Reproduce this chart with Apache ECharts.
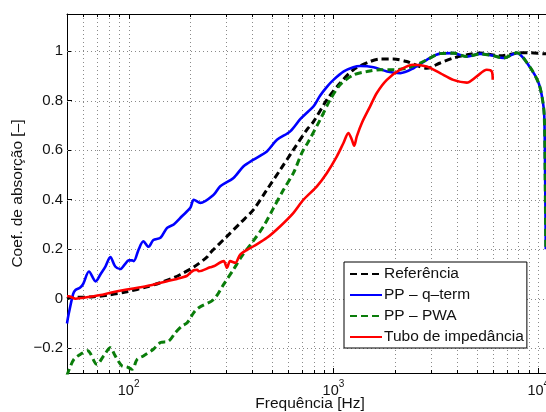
<!DOCTYPE html>
<html>
<head>
<meta charset="utf-8">
<script src="https://cdn.jsdelivr.net/npm/echarts@6/dist/echarts.min.js"></script>
<style>
  html, body { margin: 0; padding: 0; background: #fff; overflow: hidden; }
  #chart { width: 546px; height: 412px; }
</style>
</head>
<body>
<div id="chart"></div>
<script>
// Absorption coefficient vs frequency (Hz), four measurement methods.
const refFreq = [50, 52, 67.5, 80, 98, 123, 143, 166, 179, 208, 241, 250, 302, 351, 407, 473, 550, 638, 742, 799, 929, 1078, 1252, 1510, 1690, 1962, 2280, 2855, 3315, 3849, 4475, 5195, 6506, 7846, 9110, 10780, 12000];
const refAbs  = [0.0, 0.004, 0.008, 0.015, 0.028, 0.048, 0.065, 0.085, 0.098, 0.128, 0.168, 0.185, 0.252, 0.306, 0.36, 0.44, 0.521, 0.602, 0.683, 0.715, 0.804, 0.871, 0.925, 0.958, 0.968, 0.968, 0.958, 0.931, 0.952, 0.972, 0.985, 0.992, 0.981, 0.992, 0.994, 0.989, 0.99];

const qFreq = [50, 51, 53.6, 55, 58, 60, 64, 69, 73, 77, 81.4, 86, 91, 96, 100, 104, 106, 112, 118, 125, 132, 143, 154, 166, 182, 200, 208, 224, 260, 280, 325, 364, 407, 473, 530, 615, 688, 755, 800, 860, 931, 1000, 1123, 1250, 1350, 1570, 1825, 2120, 2460, 2855, 3315, 3849, 4475, 5195, 6033, 6751, 7846, 9110, 10050, 10510, 10700, 10800, 10880];
const qAbs  = [-0.10, -0.06, 0.02, 0.035, 0.045, 0.06, 0.11, 0.07, 0.10, 0.13, 0.168, 0.13, 0.12, 0.14, 0.155, 0.155, 0.152, 0.20, 0.232, 0.21, 0.237, 0.246, 0.286, 0.30, 0.333, 0.367, 0.40, 0.387, 0.42, 0.454, 0.488, 0.535, 0.562, 0.595, 0.642, 0.676, 0.725, 0.757, 0.777, 0.82, 0.857, 0.884, 0.918, 0.935, 0.94, 0.935, 0.918, 0.911, 0.931, 0.965, 0.99, 0.992, 0.978, 0.989, 0.981, 0.972, 0.993, 0.935, 0.87, 0.80, 0.736, 0.5, 0.2];

const pwaFreq = [50, 51, 54, 58, 63, 70, 75.5, 81.4, 86, 93, 98, 104, 110, 118, 132, 143, 157, 169, 182, 193, 208, 220, 260, 291, 325, 357, 400, 456, 510, 570, 638, 701, 755, 861, 964, 1078, 1252, 1455, 1690, 1962, 2280, 2648, 2855, 3315, 3849, 4475, 5195, 6033, 6751, 7846, 9110, 10050, 10510, 10700, 10800, 10880];
const pwaAbs  = [-0.31, -0.29, -0.245, -0.225, -0.21, -0.265, -0.231, -0.198, -0.231, -0.272, -0.275, -0.285, -0.245, -0.231, -0.204, -0.177, -0.171, -0.137, -0.11, -0.097, -0.056, -0.036, -0.003, 0.058, 0.118, 0.172, 0.226, 0.293, 0.367, 0.44, 0.508, 0.589, 0.635, 0.723, 0.804, 0.864, 0.904, 0.918, 0.925, 0.925, 0.931, 0.952, 0.965, 0.99, 0.992, 0.978, 0.989, 0.981, 0.972, 0.993, 0.935, 0.87, 0.80, 0.736, 0.5, 0.2];

const tubeFreq = [50, 51, 55, 60, 67.5, 73, 81.4, 98, 123, 154, 172, 193, 200, 208, 216, 220, 250, 260, 291, 302, 313, 332, 351, 407, 473, 550, 638, 714, 830, 929, 1039, 1119, 1183, 1230, 1262, 1300, 1376, 1510, 1628, 1822, 2116, 2456, 2855, 3315, 3849, 4475, 5006, 5602, 5925, 5992];
const tubeAbs  = [0.01, 0.01, 0.0, 0.004, 0.01, 0.015, 0.024, 0.037, 0.051, 0.071, 0.08, 0.093, 0.105, 0.115, 0.117, 0.111, 0.127, 0.131, 0.152, 0.125, 0.152, 0.145, 0.179, 0.212, 0.246, 0.293, 0.347, 0.40, 0.454, 0.508, 0.575, 0.629, 0.669, 0.642, 0.618, 0.656, 0.71, 0.777, 0.831, 0.884, 0.925, 0.945, 0.938, 0.911, 0.884, 0.873, 0.898, 0.925, 0.918, 0.884];

// Axis ticks
const xMajorTicks = [100, 1000, 10000];
const xMinorTicks = [60, 70, 80, 90, 200, 300, 400, 500, 600, 700, 800, 900, 2000, 3000, 4000, 5000, 6000, 7000, 8000, 9000];
const yTicks = [-0.2, 0, 0.2, 0.4, 0.6, 0.8, 1];

const X_MIN = 50, X_MAX = 11800, Y_MIN = -0.3, Y_MAX = 1.15;
const FONT = 'Liberation Sans, Arial, Helvetica, sans-serif';

const zip = (a, b) => a.map((v, i) => [v, b[i]]);

const gridStroke = { stroke: '#8a8a8a', lineWidth: 1, lineDash: [1, 3] };

// vertical dotted grid + inward ticks on bottom and top edges
function renderXGrid(params, api) {
  const cs = params.coordSys;
  const v = api.value(0);
  const x = Math.round(api.coord([v, 0])[0]) + 0.5;
  const major = api.value(1) === 1;
  const len = major ? 5 : 3;
  const bottom = cs.y + cs.height, top = cs.y;
  return {
    type: 'group',
    children: [
      { type: 'line', shape: { x1: x, y1: top, x2: x, y2: bottom }, style: gridStroke, silent: true },
      { type: 'line', shape: { x1: x, y1: bottom, x2: x, y2: bottom - len }, style: { stroke: '#000', lineWidth: 1 } },
      { type: 'line', shape: { x1: x, y1: top, x2: x, y2: top + len }, style: { stroke: '#000', lineWidth: 1 } }
    ]
  };
}

// horizontal dotted grid
function renderYGrid(params, api) {
  const cs = params.coordSys;
  const y = Math.round(api.coord([X_MIN, api.value(0)])[1]) + 0.5;
  return {
    type: 'line',
    shape: { x1: cs.x, y1: y, x2: cs.x + cs.width, y2: y },
    style: gridStroke,
    silent: true
  };
}

const xGridData = xMajorTicks.map(v => [v, 1]).concat(xMinorTicks.map(v => [v, 0]));
const yGridData = yTicks.map(v => [v]);

const chart = echarts.init(document.getElementById('chart'), null, { renderer: 'canvas' });

chart.setOption({
  animation: false,
  backgroundColor: '#fff',
  textStyle: { fontFamily: FONT },
  grid: { left: 67, width: 486, top: 14, height: 359, containLabel: false, outerBoundsMode: 'none' },
  legend: {
    left: 344,
    top: 262,
    orient: 'vertical',
    data: ['Referência', 'PP – q–term', 'PP – PWA', 'Tubo de impedância'],
    itemWidth: 32,
    itemHeight: 14,
    itemGap: 5,
    padding: [4, 3, 3, 5],
    borderColor: '#000',
    borderWidth: 1,
    borderRadius: 0,
    backgroundColor: '#fff',
    itemStyle: { opacity: 0 },
    textStyle: { fontFamily: FONT, fontSize: 15.5, color: '#111', lineHeight: 15, padding: [0, 0, 0, -3] },
    selectedMode: false
  },
  xAxis: [
    {
      type: 'log',
      logBase: 10,
      min: X_MIN,
      max: X_MAX,
      name: 'Frequência [Hz]',
      nameLocation: 'middle',
      nameGap: 23,
      nameMoveOverlap: false,
      nameTextStyle: { fontFamily: FONT, fontSize: 15.5, color: '#111' },
      axisLine: { show: true, onZero: false, lineStyle: { color: '#000', width: 1 } },
      axisTick: { show: false },
      splitLine: { show: false },
      minorTick: { show: false },
      axisLabel: {
        customValues: xMajorTicks,
        margin: 1,
        formatter: v => '{b|10}{s|' + Math.round(Math.log10(v)) + '}',
        rich: {
          b: { fontFamily: FONT, fontSize: 14.5, color: '#111', padding: [9, 0, 0, 0] },
          s: { fontFamily: FONT, fontSize: 10, color: '#111', padding: [0, 0, 4, 0] }
        }
      }
    },
    {
      type: 'log',
      logBase: 10,
      min: X_MIN,
      max: X_MAX,
      position: 'top',
      axisLine: { show: true, onZero: false, lineStyle: { color: '#000', width: 1 } },
      axisTick: { show: false },
      axisLabel: { show: false },
      splitLine: { show: false }
    }
  ],
  yAxis: [
    {
      type: 'value',
      min: Y_MIN,
      max: Y_MAX,
      name: 'Coef. de absorção [–]',
      nameLocation: 'middle',
      nameGap: 41,
      nameMoveOverlap: false,
      nameRotate: 90,
      nameTextStyle: { fontFamily: FONT, fontSize: 15.5, color: '#111' },
      axisLine: { show: true, onZero: false, lineStyle: { color: '#000', width: 1 } },
      axisTick: { show: true, inside: true, length: 5, customValues: yTicks, lineStyle: { color: '#000' } },
      splitLine: { show: false },
      axisLabel: {
        customValues: yTicks,
        margin: 4,
        fontFamily: FONT,
        fontSize: 15,
        color: '#111',
        formatter: v => (v < 0 ? '\u2212' + Math.abs(v) : String(v))
      }
    }
  ],
  series: [
    {
      type: 'custom',
      name: 'xgrid',
      renderItem: renderXGrid,
      data: xGridData,
      encode: { x: 0 },
      z: 1,
      silent: true
    },
    {
      type: 'custom',
      name: 'ygrid',
      renderItem: renderYGrid,
      data: yGridData,
      encode: { y: 0 },
      z: 1,
      silent: true
    },
    {
      name: 'Referência',
      type: 'line',
      data: zip(refFreq, refAbs),
      showSymbol: false,
      symbol: 'none',
      smooth: 0.3,
      lineStyle: { color: '#000', width: 3, type: [7, 4] },
      itemStyle: { color: '#000' },
      z: 3
    },
    {
      name: 'PP – q–term',
      type: 'line',
      data: zip(qFreq, qAbs),
      showSymbol: false,
      symbol: 'none',
      smooth: 0.3,
      lineStyle: { color: '#0000ff', width: 2.6 },
      itemStyle: { color: '#0000ff' },
      z: 4
    },
    {
      name: 'PP – PWA',
      type: 'line',
      data: zip(pwaFreq, pwaAbs),
      showSymbol: false,
      symbol: 'none',
      smooth: 0.3,
      lineStyle: { color: '#0a7d0a', width: 3, type: [7, 4] },
      itemStyle: { color: '#0a7d0a' },
      z: 5
    },
    {
      name: 'Tubo de impedância',
      type: 'line',
      data: zip(tubeFreq, tubeAbs),
      showSymbol: false,
      symbol: 'none',
      smooth: 0.3,
      lineStyle: { color: '#ff0000', width: 2.6 },
      itemStyle: { color: '#ff0000' },
      z: 6
    }
  ]
});
</script>
</body>
</html>
